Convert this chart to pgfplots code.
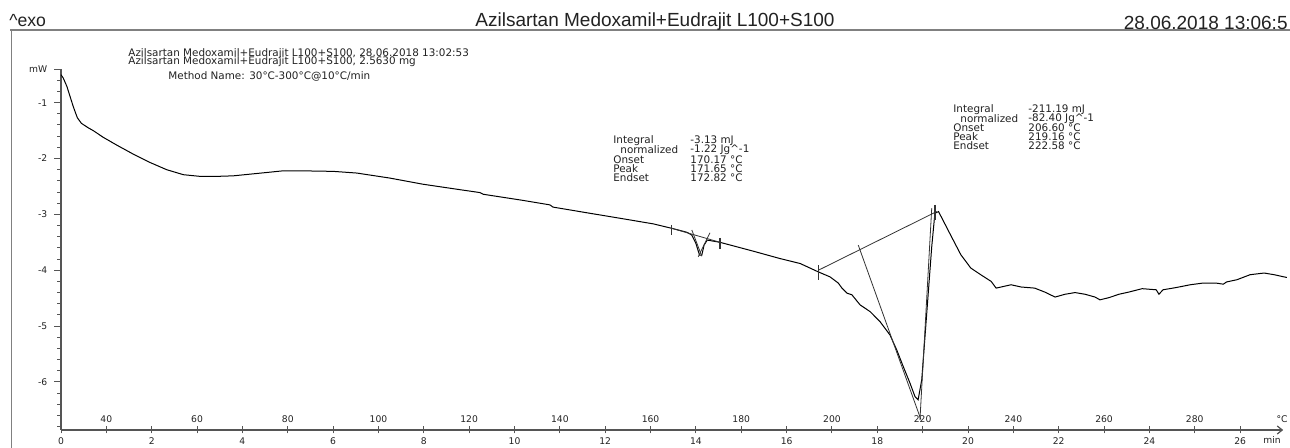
\documentclass[border=0pt]{standalone}
\usepackage{fontspec}
\setmainfont{DejaVu Sans}
\newfontfamily\arial{Liberation Sans}
\usepackage{pgfplots}
\pgfplotsset{compat=1.18}
\usetikzlibrary{arrows.meta}
\newcommand{\px}[2]{({#1*0.5pt},{(448-#2)*0.5pt})}
\definecolor{axgray}{HTML}{555555}
\definecolor{txt}{HTML}{222222}
\begin{document}
\begin{tikzpicture}
\useasboundingbox (0,0) rectangle (645pt,224pt);
\fill[white] (0,0) rectangle (645pt,224pt);
\begin{axis}[
  at={(30.5pt,9pt)}, anchor=south west,
  x=22.675pt, y=27.93pt,
  xmin=0, xmax=26.95, ymin=-6.86, ymax=-0.4,
  axis x line=bottom, axis y line=left,
  x axis line style={-{Straight Barb[length=2.5pt,width=4pt]}, axgray, line width=0.6pt},
  y axis line style={-, axgray, line width=0.6pt},
  tick align=center,
  major tick length=3.5pt, minor tick length=2pt,
  tick style={axgray, line width=0.5pt},
  major y tick style={xshift=-1.75pt},
  minor y tick style={xshift=-1pt},
  xtick={0,2,4,6,8,10,12,14,16,18,20,22,24,26},
  extra x ticks={1,3,5,7,9,11,13,15,17,19,21,23,25},
  extra x tick labels={},
  ytick={-6,-5,-4,-3,-2,-1},
  yticklabels={-6,-5,-4,-3,-2,-1},
  extra y ticks={-0.4},
  extra y tick labels={mW},
  minor ytick={-6.8,-6.6,-6.4,-6.2,-5.8,-5.6,-5.4,-5.2,-4.8,-4.6,-4.4,-4.2,-3.8,-3.6,-3.4,-3.2,-2.8,-2.6,-2.4,-2.2,-1.8,-1.6,-1.4,-1.2,-0.8,-0.6},
  /pgf/number format/assume math mode=true,
  tick label style={font=\fontsize{4.6}{5}\selectfont, text=txt},
  xticklabel style={anchor=north, inner sep=0.5pt, yshift=-1.6pt},
  yticklabel style={anchor=east, xshift=-1.6pt},
  clip=false,
]
\addplot[black, line width=0.5pt] coordinates {
(0.00,-0.50) (0.05,-0.56) (0.13,-0.71) (0.20,-0.89) (0.27,-1.07) (0.36,-1.27)
(0.45,-1.37) (0.60,-1.45) (0.71,-1.50) (0.93,-1.62) (1.23,-1.76) (1.59,-1.92) (1.96,-2.07)
(2.33,-2.20) (2.70,-2.29) (3.07,-2.32) (3.43,-2.32) (3.80,-2.31) (4.17,-2.28)
(4.54,-2.25) (4.90,-2.22) (5.27,-2.22) (6.00,-2.23) (6.52,-2.26) (7.25,-2.35)
(7.98,-2.46) (8.73,-2.55) (9.24,-2.61) (9.31,-2.64) (10.19,-2.75) (10.78,-2.83)
(10.85,-2.87) (11.66,-2.98) (12.33,-3.07) (13.06,-3.17) (13.47,-3.25) (13.80,-3.32)
(13.91,-3.37) (14.00,-3.52) (14.08,-3.73) (14.13,-3.73) (14.18,-3.55) (14.25,-3.46)
(14.53,-3.50) (15.27,-3.66) (15.85,-3.79) (16.30,-3.88) (16.70,-4.03) (16.96,-4.12)
(17.14,-4.23) (17.22,-4.32) (17.33,-4.41) (17.44,-4.44) (17.62,-4.62) (17.84,-4.74)
(18.06,-4.92) (18.28,-5.16) (18.43,-5.43) (18.57,-5.72) (18.72,-6.02) (18.83,-6.26)
(18.90,-6.32) (18.98,-5.96) (19.09,-4.77) (19.20,-3.58) (19.27,-2.98) (19.35,-2.95)
(19.61,-3.36) (19.84,-3.72) (20.06,-3.96) (20.28,-4.08) (20.51,-4.20) (20.62,-4.32)
(20.73,-4.30) (20.95,-4.26) (21.17,-4.30) (21.47,-4.32) (21.69,-4.39) (21.92,-4.48)
(22.14,-4.43) (22.36,-4.40) (22.58,-4.43) (22.80,-4.48) (22.91,-4.53) (23.11,-4.49)
(23.33,-4.43) (23.55,-4.39) (23.84,-4.33) (24.15,-4.35) (24.21,-4.43) (24.30,-4.35)
(24.59,-4.31) (24.90,-4.26) (25.18,-4.23) (25.47,-4.23) (25.63,-4.25) (25.70,-4.21)
(25.93,-4.17) (26.22,-4.08) (26.53,-4.05) (26.75,-4.08) (27.03,-4.13)
};
% evaluation lines, large peak
\addplot[black!80, line width=0.4pt] coordinates {(16.70,-4.00) (19.31,-2.95)};
\addplot[black!80, line width=0.4pt] coordinates {(17.58,-3.55) (18.96,-6.67)};
\addplot[black!80, line width=0.4pt] coordinates {(19.20,-2.89) (18.94,-6.68)};
\addplot[black!80, line width=0.6pt] coordinates {(16.70,-3.91) (16.70,-4.17)};
\addplot[black!80, line width=0.6pt] coordinates {(19.27,-2.83) (19.27,-3.10)};
% evaluation lines, small peak
\addplot[black!80, line width=0.4pt] coordinates {(13.47,-3.25) (14.53,-3.50)};
\addplot[black!80, line width=0.4pt] coordinates {(13.91,-3.28) (14.13,-3.75)};
\addplot[black!80, line width=0.4pt] coordinates {(14.31,-3.33) (14.05,-3.76)};
\addplot[black!80, line width=0.6pt] coordinates {(13.47,-3.19) (13.47,-3.37)};
\addplot[black!80, line width=0.6pt] coordinates {(14.53,-3.42) (14.53,-3.62)};
\pgfplotsinvokeforeach{1,3,5,7,9,11,13,15,17,19,21,23,25}{
  \node[font=\fontsize{4.6}{5}\selectfont, text=txt, anchor=south, inner sep=0.5pt, yshift=3.2pt] at (axis cs:#1,-6.86) {\pgfmathtruncatemacro\T{30+10*#1}\T};
}
\end{axis}
% frame lines
\draw[gray, line width=0.8pt] \px{10}{30} -- \px{1290}{30};
\draw[gray, line width=0.8pt] \px{11.5}{30} -- \px{11.5}{448};
% header
\node[font=\arial\fontsize{8.8}{10}\selectfont, text=txt, anchor=west, inner sep=0pt] at \px{9}{21} {\textasciicircum exo};
\node[font=\arial\fontsize{9.5}{11}\selectfont, text=txt] at \px{655}{21.5} {Azilsartan Medoxamil+Eudrajit L100+S100};
\node[font=\arial\fontsize{9.5}{11}\selectfont, text=txt, anchor=east, inner sep=0pt] at \px{1288}{22.5} {28.06.2018 13:06:5};
% axis unit labels
\node[font=\fontsize{4.6}{5}\selectfont, text=txt] at \px{1282}{419} {°C};
\node[font=\fontsize{4.6}{5}\selectfont, text=txt] at \px{1272}{440} {min};
% info text
\begin{scope}[every node/.style={font=\fontsize{5.2}{6}\selectfont, text=txt, anchor=west, inner sep=0pt}]
\node at \px{128}{54} {Azilsartan Medoxamil+Eudrajit L100+S100, 28.06.2018 13:02:53};
\node at \px{128}{61.5} {Azilsartan Medoxamil+Eudrajit L100+S100, 2.5630 mg};
\node at \px{168}{76} {Method Name: 30°C-300°C@10°C/min};
\node at \px{613}{141} {Integral};
\node at \px{620}{150} {normalized};
\node at \px{613}{159.5} {Onset};
\node at \px{613}{168.5} {Peak};
\node at \px{613}{177.5} {Endset};
\node at \px{690}{141} {-3.13 mJ};
\node at \px{690}{150} {-1.22 Jg\textasciicircum-1};
\node at \px{690}{159.5} {170.17 °C};
\node at \px{690}{168.5} {171.65 °C};
\node at \px{690}{177.5} {172.82 °C};
\node at \px{953}{110} {Integral};
\node at \px{960}{119} {normalized};
\node at \px{953}{128} {Onset};
\node at \px{953}{137} {Peak};
\node at \px{953}{146} {Endset};
\node at \px{1028}{110} {-211.19 mJ};
\node at \px{1028}{119} {-82.40 Jg\textasciicircum-1};
\node at \px{1028}{128} {206.60 °C};
\node at \px{1028}{137} {219.16 °C};
\node at \px{1028}{146} {222.58 °C};
\end{scope}
\end{tikzpicture}
\end{document}
